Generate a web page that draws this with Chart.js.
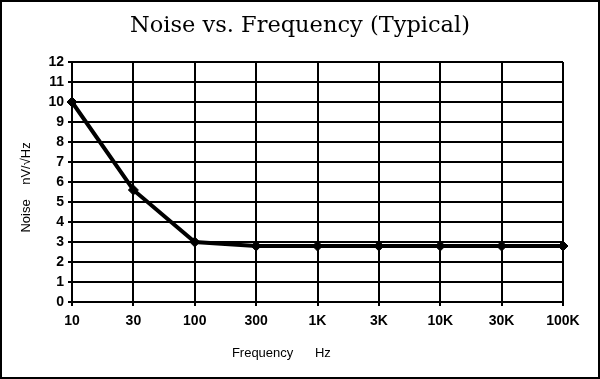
<!DOCTYPE html>
<html>
<head>
<meta charset="utf-8">
<script src="https://cdn.jsdelivr.net/npm/chart.js@4"></script>
<style>
  html, body { margin: 0; padding: 0; background: #fff; }
  #wrap { width: 600px; height: 379px; position: relative; }
</style>
</head>
<body>
<div id="wrap"><canvas id="c" width="600" height="379"></canvas></div>
<script>
const chartTitle = 'Noise vs. Frequency (Typical)';
const frequencies = ['10', '30', '100', '300', '1K', '3K', '10K', '30K', '100K'];
const noiseValues = [10, 5.6, 3.0, 2.8, 2.8, 2.8, 2.8, 2.8, 2.8];
const yMin = 0, yMax = 12, yStep = 1;
const xTitle = 'Frequency      Hz';
const yTitle = 'Noise    nV/\u221AHz';

const framePlugin = {
  id: 'frame',
  afterDraw(chart) {
    const ctx = chart.ctx;
    ctx.save();
    ctx.strokeStyle = '#000';
    ctx.lineWidth = 2;
    ctx.strokeRect(1, 1, chart.width - 2, chart.height - 2);
    ctx.restore();
  }
};

new Chart(document.getElementById('c'), {
  type: 'line',
  data: {
    labels: frequencies,
    datasets: [{
      data: noiseValues,
      borderColor: '#000',
      backgroundColor: '#000',
      borderWidth: 4,
      pointStyle: 'rectRot',
      pointRadius: 5,
      pointBorderWidth: 1,
      tension: 0,
      clip: false
    }]
  },
  options: {
    responsive: false,
    animation: false,
    devicePixelRatio: 1,
    layout: { padding: 0 },
    plugins: {
      legend: { display: false },
      tooltip: { enabled: false },
      title: {
        display: true,
        text: chartTitle,
        color: '#000',
        font: { family: 'DejaVu Serif', size: 22.5, weight: 'normal', lineHeight: 1.2 },
        padding: { top: 12.5, bottom: 22.5 }
      }
    },
    scales: {
      x: {
        type: 'category',
        offset: false,
        grid: { color: '#000', lineWidth: 2, tickLength: 4, drawTicks: true },
        border: { color: '#000', width: 2 },
        ticks: { color: '#000', padding: 7, maxRotation: 0, autoSkip: false,
                 font: { family: 'Liberation Sans', size: 14, weight: 'bold' } },
        title: { display: true, text: xTitle + '                    ', color: '#000',
                 font: { family: 'Liberation Sans', size: 13 }, padding: { top: 0, bottom: 18 } },
        afterFit(scale) { scale.height = 77; }
      },
      y: {
        min: yMin, max: yMax,
        grid: { color: '#000', lineWidth: 2, tickLength: 4 },
        border: { color: '#000', width: 2 },
        ticks: { stepSize: yStep, color: '#000', padding: 4,
                 font: { family: 'Liberation Sans', size: 14, weight: 'bold' } },
        title: { display: true, text: yTitle + '   ', color: '#000',
                 font: { family: 'Liberation Sans', size: 13 }, padding: { top: 19, bottom: 0 } },
        afterFit(scale) { scale.width = 72; }
      },
      yRight: {
        position: 'right',
        display: true,
        min: yMin, max: yMax,
        grid: { display: false, drawTicks: false },
        border: { display: false },
        ticks: { display: false },
        afterFit(scale) { scale.width = 37; }
      }
    }
  },
  plugins: [framePlugin]
});
</script>
</body>
</html>
